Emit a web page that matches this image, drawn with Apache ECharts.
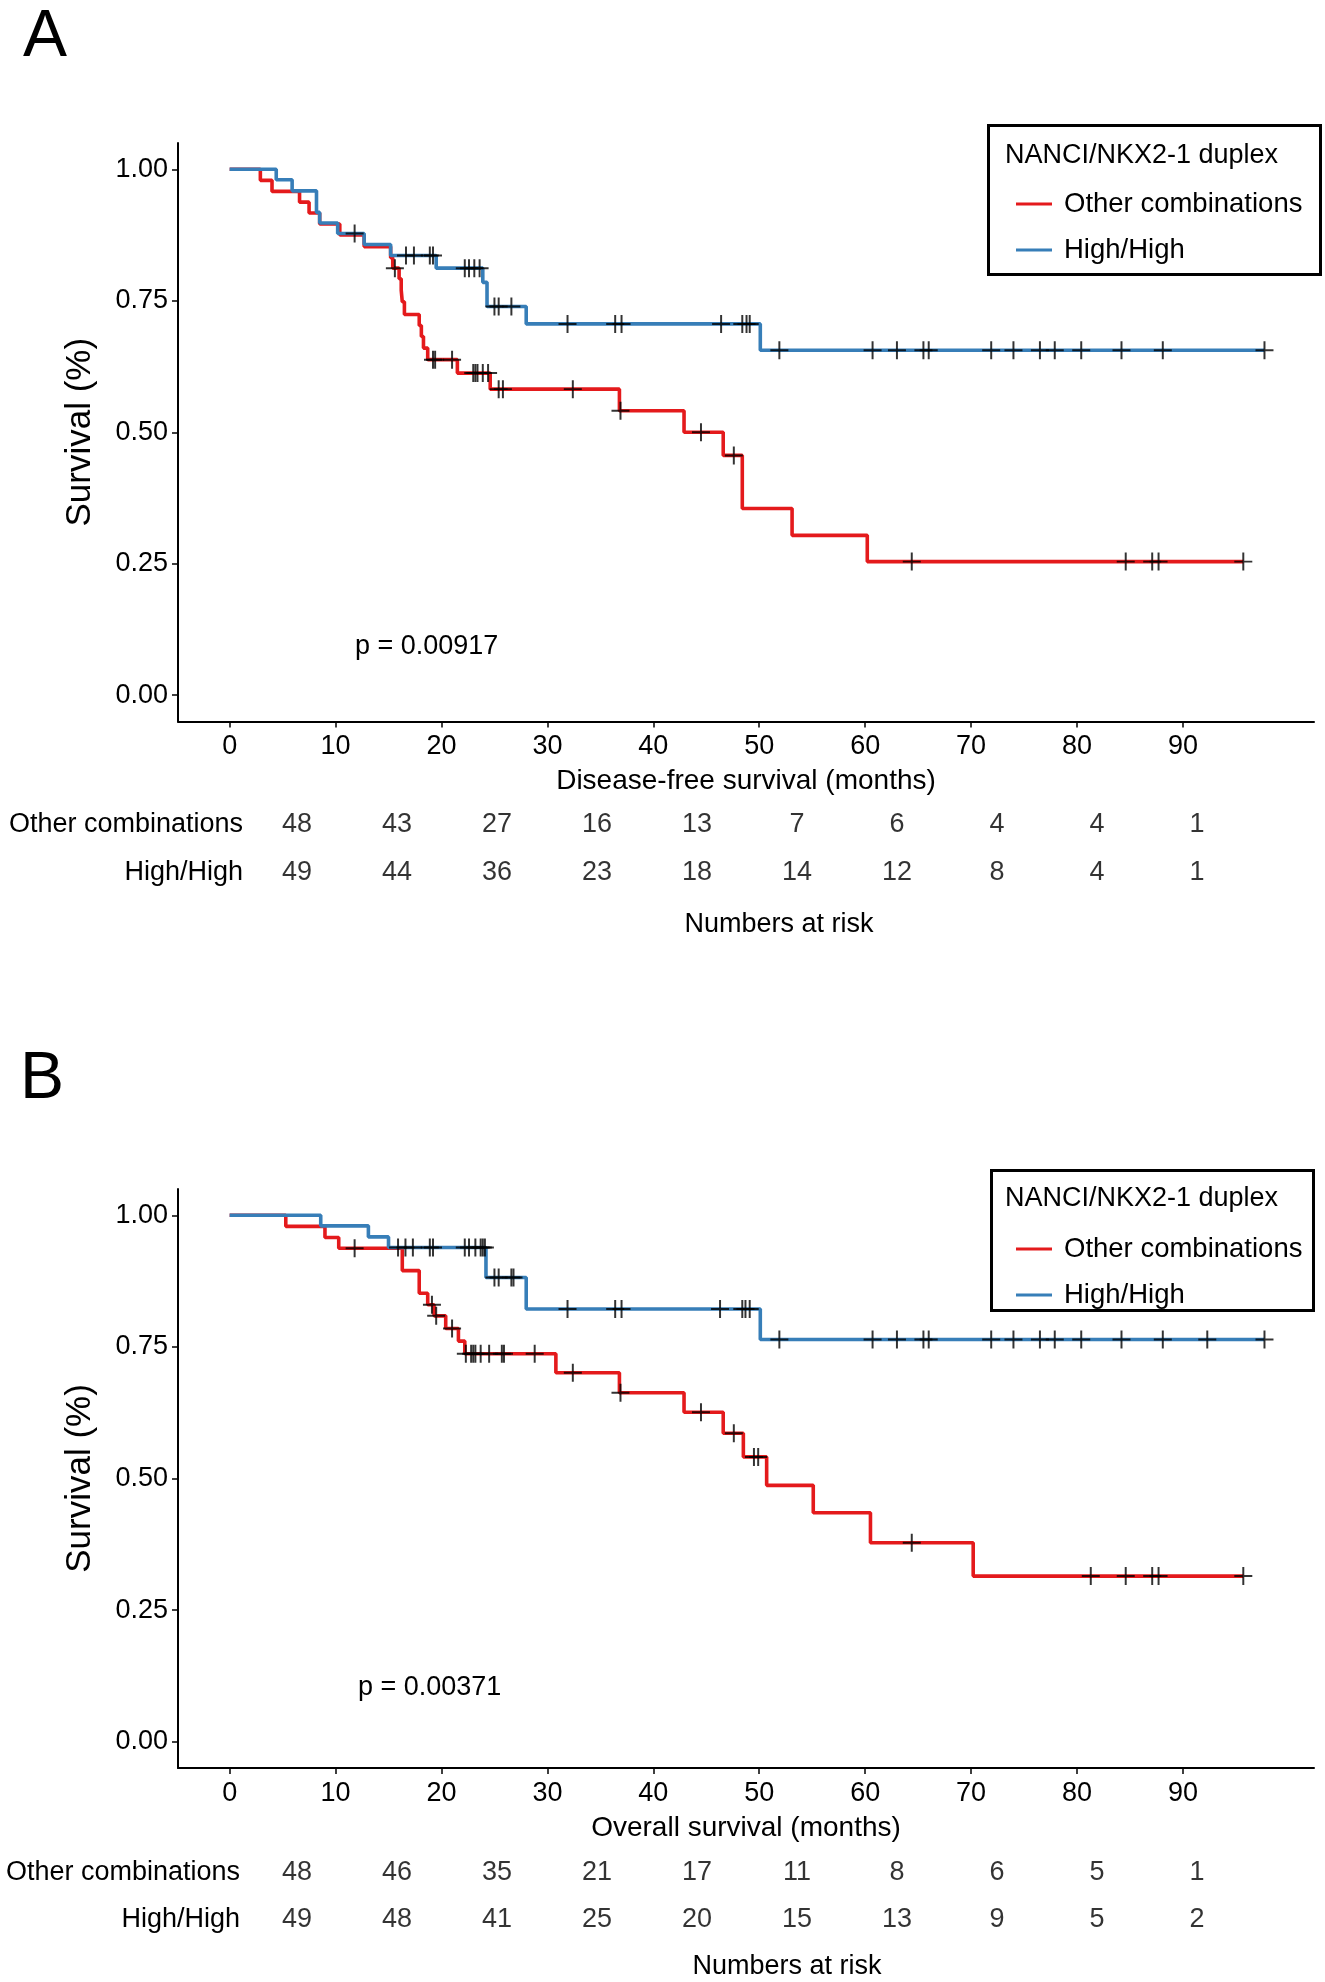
<!DOCTYPE html>
<html>
<head>
<meta charset="utf-8">
<script src="https://cdn.jsdelivr.net/npm/echarts@6/dist/echarts.min.js"></script>
<style>html,body{margin:0;padding:0;background:#fff}#c{width:1325px;height:1982px}</style>
</head>
<body>
<div id="c"></div>
<script>
// ---------- data ----------
const groupNames = ['Other combinations', 'High/High'];
const xTicks = [0, 10, 20, 30, 40, 50, 60, 70, 80, 90];
const yTicks = [0, 0.25, 0.5, 0.75, 1];
const riskTimes = [0, 10, 20, 30, 40, 50, 60, 70, 80, 90];

// Panel A: disease-free survival, steps [time, survival]
const dfsOtherSteps = [[0,1],[2.9,0.979],[4.0,0.958],[6.6,0.9375],[7.5,0.917],[8.5,0.896],[10.4,0.875],[12.7,0.853],[15.2,0.832],[15.4,0.812],[16.0,0.792],[16.2,0.770],[16.3,0.748],[16.5,0.724],[17.9,0.703],[18.1,0.682],[18.3,0.660],[18.7,0.638],[21.5,0.6125],[24.6,0.582],[36.8,0.541],[42.9,0.500],[46.6,0.456],[48.4,0.355],[53.1,0.304],[60.2,0.254]];
const dfsOtherEnd = 95.7;
const dfsOtherCensor = [15.6,19.2,19.4,21.0,23.0,23.2,23.4,23.9,24.4,25.4,25.8,32.4,36.9,44.5,47.6,64.4,84.6,87.1,87.7,95.7];
const dfsHighSteps = [[0,1],[4.4,0.980],[5.9,0.959],[8.2,0.918],[8.5,0.898],[10.2,0.878],[12.7,0.857],[15.2,0.836],[19.5,0.812],[23.9,0.785],[24.3,0.739],[28.0,0.706],[50.1,0.656]];
const dfsHighEnd = 97.7;
const dfsHighCensor = [11.8,16.65,17.4,18.9,19.2,22.2,22.6,23.1,23.6,25.0,25.4,26.6,31.9,36.4,37.0,46.4,48.4,48.8,49.1,51.9,60.7,63.0,65.5,66.0,71.9,74.0,76.5,77.9,80.4,84.2,88.1,97.7];
const dfsRiskOther = [48,43,27,16,13,7,6,4,4,1];
const dfsRiskHigh = [49,44,36,23,18,14,12,8,4,1];

// Panel B: overall survival
const osOtherSteps = [[0,1],[5.3,0.979],[9.0,0.958],[10.3,0.9375],[16.3,0.895],[17.9,0.852],[18.7,0.830],[19.3,0.809],[20.4,0.785],[21.6,0.761],[22.2,0.737],[30.8,0.701],[36.8,0.663],[42.9,0.626],[46.6,0.586],[48.5,0.541],[50.7,0.487],[55.1,0.435],[60.5,0.378],[70.2,0.3146]];
const osOtherEnd = 95.7;
const osOtherCensor = [11.8,19.1,19.5,21.0,22.3,22.8,23.0,23.2,23.7,24.5,25.7,25.9,28.8,32.4,36.9,44.5,47.6,49.5,49.9,64.4,81.3,84.6,87.1,87.7,95.7];
const osHighSteps = [[0,1],[8.6,0.980],[13.1,0.959],[15.0,0.939],[24.2,0.882],[28.0,0.822],[50.1,0.764]];
const osHighEnd = 97.7;
const osHighCensor = [15.9,16.6,17.3,18.9,19.2,22.2,22.6,23.2,23.7,23.9,24.1,25.0,25.4,26.6,26.8,31.9,36.4,37.0,46.3,48.4,48.7,49.1,51.9,60.7,63.0,65.5,66.0,71.9,74.0,76.5,77.9,80.4,84.2,88.1,92.3,97.7];
const osRiskOther = [48,46,35,21,17,11,8,6,5,1];
const osRiskHigh = [49,48,41,25,20,15,13,9,5,2];

// ---------- helpers ----------
const RED = '#E41A1C', BLUE = '#377EB8';
const FONT = '"Liberation Sans", Arial, Helvetica, sans-serif';
const FS = 27;
function kmLine(steps, end) { return steps.concat([[end, steps[steps.length - 1][1]]]); }
function survAt(steps, t) { let s = 1; for (const p of steps) { if (p[0] <= t) s = p[1]; } return s; }
function censorPts(steps, times) { return times.map(t => [t, survAt(steps, t)]); }
const PLUS = 'path://M-1.1,-10 L1.1,-10 L1.1,-1.1 L10,-1.1 L10,1.1 L1.1,1.1 L1.1,10 L-1.1,10 L-1.1,1.1 L-10,1.1 L-10,-1.1 L-1.1,-1.1 Z';

function kmSeries(name, color, steps, end, censor, idx) {
  return [
    { name: name, type: 'line', step: 'end', xAxisIndex: idx, yAxisIndex: idx,
      data: kmLine(steps, end), showSymbol: false, symbol: 'none',
      itemStyle: { color: color }, lineStyle: { color: color, width: 3.6 }, z: 2, animation: false },
    { name: name + ' censored', type: 'scatter', xAxisIndex: idx, yAxisIndex: idx,
      data: censorPts(steps, censor), symbol: PLUS, symbolSize: 18,
      itemStyle: { color: '#000' }, z: 5, animation: false, silent: true }
  ];
}
function riskSeries(times, vals, row, idx) {
  return { name: 'risk ' + idx + ' ' + row, type: 'scatter', xAxisIndex: idx, yAxisIndex: idx,
    data: times.map((t, i) => [t, row, vals[i]]), symbolSize: 0, silent: true, animation: false,
    label: { show: true, position: 'inside', formatter: p => String(p.value[2]),
      color: '#000', fontSize: FS, fontFamily: FONT } };
}

function kmX(grid, name) {
  return { type: 'value', gridIndex: grid, min: -4.875, max: 102.375,
    name: name, nameLocation: 'middle', nameGap: 46,
    nameTextStyle: { color: '#000', fontSize: 28, fontFamily: FONT },
    axisLine: { onZero: false, lineStyle: { color: '#000', width: 2 } },
    axisTick: { show: true, length: 6, customValues: xTicks, lineStyle: { color: '#000', width: 1.5 } },
    axisLabel: { customValues: xTicks, margin: 12, color: '#000', fontSize: FS, fontFamily: FONT },
    splitLine: { show: false } };
}
function kmY(grid) {
  return { type: 'value', gridIndex: grid, min: -0.05, max: 1.05,
    name: 'Survival (%)', nameLocation: 'middle', nameGap: 80,
    nameTextStyle: { color: '#000', fontSize: 35, fontFamily: FONT },
    axisLine: { show: true, onZero: false, lineStyle: { color: '#000', width: 2 } },
    axisTick: { show: true, length: 6, customValues: yTicks, lineStyle: { color: '#000', width: 1.5 } },
    axisLabel: { customValues: yTicks, margin: 10, color: '#000', fontSize: FS, fontFamily: FONT,
      formatter: v => v.toFixed(2) },
    splitLine: { show: false } };
}
function tableX(grid) {
  return { type: 'value', gridIndex: grid, min: -5, max: 95, show: false };
}
function tableY(grid, margin) {
  return { type: 'category', gridIndex: grid, data: groupNames, inverse: true,
    axisLine: { show: false }, axisTick: { show: false }, splitLine: { show: false },
    axisLabel: { margin: margin, color: '#000', fontSize: FS, fontFamily: FONT } };
}
function legendCfg(top) {
  return { data: groupNames, orient: 'vertical', left: 1011, top: top,
    icon: 'rect', itemWidth: 36, itemHeight: 3, itemGap: 18, selectedMode: false,
    textStyle: { color: '#000', fontSize: 27.5, fontFamily: FONT, padding: [0, 0, 0, 7] } };
}
function txt(text, x, y, size, align, valign, rotation) {
  return { type: 'text', x: x, y: y, rotation: rotation || 0, silent: true,
    style: { text: text, fill: '#000', font: size + 'px ' + FONT,
      textAlign: align || 'left', textVerticalAlign: valign || 'middle' } };
}

const option = {
  backgroundColor: '#fff',
  animation: false,
  grid: [
    { left: 178, top: 143, width: 1136, height: 578.5, containLabel: false },
    { left: 178, top: 1189, width: 1136, height: 579, containLabel: false },
    { left: 247, top: 801, width: 1000, height: 96, containLabel: false },
    { left: 247, top: 1849, width: 1000, height: 94, containLabel: false }
  ],
  xAxis: [kmX(0, 'Disease-free survival (months)'), kmX(1, 'Overall survival (months)'), tableX(2), tableX(3)],
  yAxis: [kmY(0), kmY(1), tableY(2, 4), tableY(3, 7)],
  legend: [legendCfg(185), legendCfg(1230)],
  series: [].concat(
    kmSeries(groupNames[0], RED, dfsOtherSteps, dfsOtherEnd, dfsOtherCensor, 0),
    kmSeries(groupNames[1], BLUE, dfsHighSteps, dfsHighEnd, dfsHighCensor, 0),
    kmSeries(groupNames[0], RED, osOtherSteps, osOtherEnd, osOtherCensor, 1),
    kmSeries(groupNames[1], BLUE, osHighSteps, osHighEnd, osHighCensor, 1),
    [riskSeries(riskTimes, dfsRiskOther, groupNames[0], 2),
     riskSeries(riskTimes, dfsRiskHigh, groupNames[1], 2),
     riskSeries(riskTimes, osRiskOther, groupNames[0], 3),
     riskSeries(riskTimes, osRiskHigh, groupNames[1], 3)]
  ),
  graphic: [
    txt('A', 23, 38, 66, 'left', 'middle'),
    txt('B', 20, 1080, 66, 'left', 'middle'),
    txt('p = 0.00917', 355, 647, FS),
    txt('p = 0.00371', 358, 1688, FS),
    txt('Numbers at risk', 779, 925, FS, 'center'),
    txt('Numbers at risk', 787, 1967, FS, 'center'),
    { type: 'rect', shape: { x: 988.5, y: 125.5, width: 332, height: 149 }, silent: true,
      style: { fill: 'none', stroke: '#000', lineWidth: 3 } },
    txt('NANCI/NKX2-1 duplex', 1005, 156, FS),
    { type: 'rect', shape: { x: 991.5, y: 1170.5, width: 322, height: 140 }, silent: true,
      style: { fill: 'none', stroke: '#000', lineWidth: 3 } },
    txt('NANCI/NKX2-1 duplex', 1005, 1199, FS)
  ]
};

const chart = echarts.init(document.getElementById('c'), null, { renderer: 'canvas', width: 1325, height: 1982 });
chart.setOption(option);
</script>
</body>
</html>
